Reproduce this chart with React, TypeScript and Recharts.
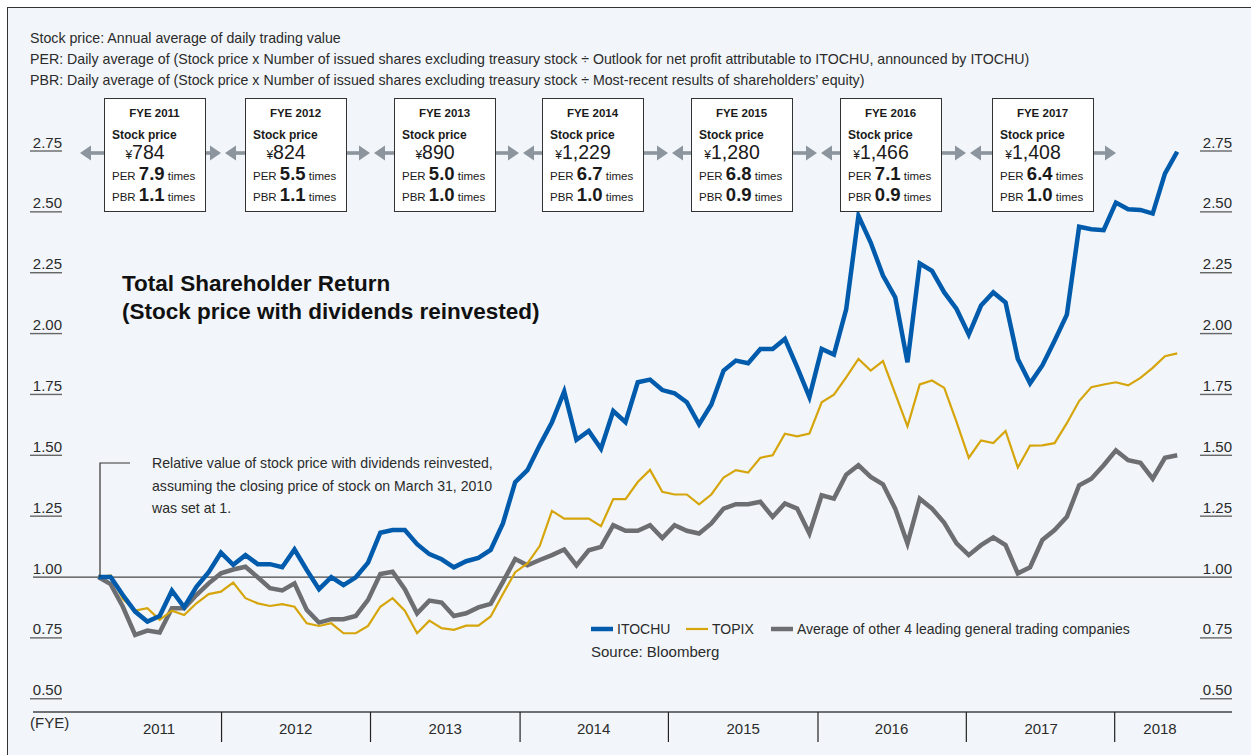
import { LineChart, Line, XAxis, YAxis, ReferenceLine } from 'recharts';

// Relative value of stock price with dividends reinvested, month by month from March 31, 2010 (= 1)
const ITOCHU = [
  1.0, 1.0, 0.926, 0.858, 0.817, 0.84, 0.944, 0.876, 0.96, 1.02,
  1.1, 1.05, 1.09, 1.053, 1.053, 1.04, 1.113, 1.029, 0.95, 1.0,
  0.967, 0.999, 1.059, 1.182, 1.193, 1.193, 1.135, 1.094, 1.073, 1.04,
  1.065, 1.079, 1.111, 1.22, 1.39, 1.439, 1.541, 1.636, 1.762, 1.564,
  1.6, 1.527, 1.682, 1.636, 1.8, 1.811, 1.768, 1.755, 1.718, 1.627,
  1.709, 1.848, 1.889, 1.878, 1.937, 1.937, 1.978, 1.862, 1.739, 1.937,
  1.914, 2.1, 2.484, 2.374, 2.238, 2.149, 1.882, 2.288, 2.258, 2.169,
  2.101, 1.996, 2.115, 2.169, 2.128, 1.896, 1.796, 1.869, 1.971, 2.078,
  2.439, 2.429, 2.425, 2.538, 2.511, 2.508, 2.493, 2.657, 2.747,
];

const TOPIX = [
  1.0, 1.007, 0.909, 0.862, 0.872, 0.824, 0.862, 0.844, 0.892, 0.93,
  0.94, 0.977, 0.913, 0.892, 0.881, 0.889, 0.878, 0.81, 0.799, 0.81,
  0.769, 0.769, 0.799, 0.878, 0.913, 0.862, 0.769, 0.821, 0.79, 0.783,
  0.8, 0.8, 0.838, 0.93, 1.02, 1.056, 1.127, 1.272, 1.24, 1.24,
  1.24, 1.209, 1.32, 1.32, 1.39, 1.44, 1.35, 1.339, 1.339, 1.299,
  1.339, 1.409, 1.439, 1.429, 1.49, 1.5, 1.589, 1.578, 1.589, 1.718,
  1.749, 1.82, 1.896, 1.848, 1.887, 1.753, 1.619, 1.791, 1.807, 1.777,
  1.637, 1.49, 1.561, 1.55, 1.6, 1.45, 1.54, 1.541, 1.55, 1.632,
  1.723, 1.78, 1.791, 1.8, 1.787, 1.818, 1.859, 1.907, 1.919,
];

const OTHERS = [
  1.0, 0.971, 0.878, 0.762, 0.78, 0.772, 0.872, 0.872, 0.926, 0.974,
  1.015, 1.031, 1.042, 0.999, 0.954, 0.945, 0.974, 0.865, 0.813, 0.827,
  0.827, 0.84, 0.906, 1.012, 1.022, 0.95, 0.851, 0.903, 0.895, 0.84,
  0.851, 0.875, 0.89, 0.98, 1.074, 1.048, 1.07, 1.09, 1.113, 1.048,
  1.11, 1.124, 1.213, 1.19, 1.19, 1.213, 1.16, 1.213, 1.19, 1.179,
  1.22, 1.281, 1.299, 1.299, 1.309, 1.247, 1.302, 1.281, 1.179, 1.336,
  1.322, 1.42, 1.459, 1.411, 1.381, 1.281, 1.138, 1.322, 1.281, 1.223,
  1.138, 1.09, 1.131, 1.163, 1.131, 1.015, 1.04, 1.152, 1.193, 1.247,
  1.377, 1.404, 1.459, 1.52, 1.48, 1.469, 1.404, 1.49, 1.5,
];

const Y_TICKS = [0.5, 0.75, 1.0, 1.25, 1.5, 1.75, 2.0, 2.25, 2.5, 2.75];

// fiscal-year columns on the month axis
const YEAR_LABELS = ['2011', '2012', '2013', '2014', '2015', '2016', '2017', '2018'];
const YEAR_LABEL_AT = [4.95, 16.1, 28.3, 40.4, 52.6, 64.7, 76.9, 86.6];
const FY_BOUNDARY_AT = [10.05, 22.2, 34.4, 46.5, 58.7, 70.8, 82.9];

// boxes above the chart
const FYE = ['FYE 2011', 'FYE 2012', 'FYE 2013', 'FYE 2014', 'FYE 2015', 'FYE 2016', 'FYE 2017'];
const PRICE = ['784', '824', '890', '1,229', '1,280', '1,466', '1,408'];
const PER = ['7.9', '5.5', '5.0', '6.7', '6.8', '7.1', '6.4'];
const PBR = ['1.1', '1.1', '1.0', '1.0', '0.9', '0.9', '1.0'];

const NOTES = [
  'Stock price: Annual average of daily trading value',
  'PER: Daily average of (Stock price x Number of issued shares excluding treasury stock ÷ Outlook for net profit attributable to ITOCHU, announced by ITOCHU)',
  'PBR: Daily average of (Stock price x Number of issued shares excluding treasury stock ÷ Most-recent results of shareholders’ equity)',
];

const SERIES = [
  { key: 'itochu', name: 'ITOCHU', color: '#005bac', width: 4.5 },
  { key: 'topix', name: 'TOPIX', color: '#d6a50c', width: 2.2 },
  { key: 'others', name: 'Average of other 4 leading general trading companies', color: '#6d6e71', width: 4.5 },
];

const rows = ITOCHU.map((v, i) => ({ i, itochu: v, topix: TOPIX[i], others: OTHERS[i] }));

// layout
const W = 1251;
const H = 755;
const FONT = '"Liberation Sans", Arial, Helvetica, sans-serif';
const INK = '#2b2b2b';
const PLOT_LEFT = 33;
const PLOT_RIGHT = 1232;
const BOX_LEFT = [104, 245, 394, 542, 691, 840, 992];
const BOX_W = 101;
const BOX_TOP = 98;
const BOX_H = 113;
const TIP_LEFT = [80, 225, 374, 523, 672, 821, 970];
const TIP_RIGHT = [221, 370, 519, 668, 817, 966, 1116];
const ARROW_Y = 153;
const ARROW = '#8c959d';

function LeftTick(props: any) {
  const { y, payload } = props;
  return (
    <g>
      <text x={PLOT_LEFT + 29} y={y - 3.5} textAnchor="end" fontSize={15} fill={INK} fontFamily={FONT}>
        {Number(payload.value).toFixed(2)}
      </text>
      {payload.value !== 1 && (
        <line x1={PLOT_LEFT - 3} x2={PLOT_LEFT + 29} y1={y} y2={y} stroke="#666" strokeWidth={1.4} />
      )}
    </g>
  );
}

function RightTick(props: any) {
  const { y, payload } = props;
  return (
    <g>
      <text x={PLOT_RIGHT} y={y - 3.5} textAnchor="end" fontSize={15} fill={INK} fontFamily={FONT}>
        {Number(payload.value).toFixed(2)}
      </text>
      {payload.value !== 1 && (
        <line x1={PLOT_RIGHT - 32} x2={PLOT_RIGHT} y1={y} y2={y} stroke="#666" strokeWidth={1.4} />
      )}
    </g>
  );
}

function YearTick(props: any) {
  const { x, y, payload } = props;
  if (FY_BOUNDARY_AT.includes(payload.value)) {
    return <line x1={x} x2={x} y1={y} y2={y + 30} stroke="#222" strokeWidth={1.2} />;
  }
  const k = YEAR_LABEL_AT.indexOf(payload.value);
  return (
    <text x={x} y={y + 22} textAnchor="middle" fontSize={15} fill={INK} fontFamily={FONT}>
      {YEAR_LABELS[k]}
    </text>
  );
}

function Arrow({ from, tip }: { from: number; tip: number }) {
  const dir = tip < from ? 1 : -1;
  const base = tip + dir * 11;
  return (
    <g fill={ARROW}>
      <rect x={Math.min(from, base)} y={ARROW_Y - 1.8} width={Math.abs(from - base)} height={3.6} />
      <polygon points={`${tip},${ARROW_Y} ${base},${ARROW_Y - 7.5} ${base},${ARROW_Y + 7.5}`} />
    </g>
  );
}

function Boxes() {
  return (
    <g fontFamily={FONT} fill="#1a1a1a">
      {FYE.map((label, k) => {
        const L = BOX_LEFT[k];
        return (
          <g key={label}>
            <Arrow from={L} tip={TIP_LEFT[k]} />
            <Arrow from={L + BOX_W} tip={TIP_RIGHT[k]} />
            <rect x={L + 0.5} y={BOX_TOP + 0.5} width={BOX_W} height={BOX_H} fill="#fff" stroke="#333" strokeWidth={1} />
            <text x={L + BOX_W / 2} y={BOX_TOP + 19} textAnchor="middle" fontSize={11.5} fontWeight={700}>{label}</text>
            <text x={L + 8} y={BOX_TOP + 41} fontSize={12} fontWeight={700}>Stock price</text>
            <text x={L + 41} y={BOX_TOP + 61} textAnchor="middle">
              <tspan fontSize={12}>¥</tspan>
              <tspan fontSize={19.5}>{PRICE[k]}</tspan>
            </text>
            <text x={L + 8} y={BOX_TOP + 82}>
              <tspan fontSize={11.5}>PER </tspan>
              <tspan fontSize={18.5} fontWeight={700}>{PER[k]}</tspan>
              <tspan fontSize={11.5}> times</tspan>
            </text>
            <text x={L + 8} y={BOX_TOP + 103}>
              <tspan fontSize={11.5}>PBR </tspan>
              <tspan fontSize={18.5} fontWeight={700}>{PBR[k]}</tspan>
              <tspan fontSize={11.5}> times</tspan>
            </text>
          </g>
        );
      })}
    </g>
  );
}

function Overlay() {
  const legendX = [591, 686, 771];
  return (
    <svg width={W} height={H} style={{ position: 'absolute', left: 0, top: 0, pointerEvents: 'none' }}>
      <g fontFamily={FONT} fill={INK} fontSize={14.2}>
        {NOTES.map((t, k) => (
          <text key={k} x={30} y={43 + k * 21}>{t}</text>
        ))}
      </g>
      <Boxes />
      <g fontFamily={FONT} fill="#111" fontSize={22.5} fontWeight={700}>
        <text x={122} y={291}>Total Shareholder Return</text>
        <text x={122} y={319}>(Stock price with dividends reinvested)</text>
      </g>
      <g fontFamily={FONT} fill={INK} fontSize={14.1}>
        <text x={152} y={468}>Relative value of stock price with dividends reinvested,</text>
        <text x={152} y={491}>assuming the closing price of stock on March 31, 2010</text>
        <text x={152} y={513}>was set at 1.</text>
        <polyline points="100,577 100,463 130,463" fill="none" stroke="#333" strokeWidth={1.2} />
      </g>
      <g fontFamily={FONT} fill={INK} fontSize={14}>
        {SERIES.map((s, k) => (
          <g key={s.key}>
            <rect x={legendX[k]} y={629 - s.width / 2} width={22} height={s.width} fill={s.color} />
            <text x={legendX[k] + 26} y={634}>{s.name}</text>
          </g>
        ))}
        <text x={591} y={657} fontSize={15}>Source: Bloomberg</text>
        <text x={30} y={728} fontSize={15}>(FYE)</text>
      </g>
    </svg>
  );
}

export default function App() {
  return (
    <div style={{ position: 'absolute', left: 0, top: 0, width: W, height: H, background: '#fff', overflow: 'hidden', fontFamily: FONT }}>
      <div
        style={{
          position: 'absolute', left: 7, top: 7, right: 0, bottom: 0,
          background: '#f2f6fa', borderLeft: '1.5px solid #333', borderTop: '1.5px solid #333',
        }}
      />
      <div style={{ position: 'absolute', left: 0, top: 0 }}>
        <LineChart width={W} height={H} data={rows} margin={{ top: 151, right: W - PLOT_RIGHT - 1, bottom: 0, left: PLOT_LEFT - 1 }}>
          <XAxis
            dataKey="i"
            type="number"
            domain={[-5.33, 92.47]}
            allowDataOverflow
            ticks={[...FY_BOUNDARY_AT, ...YEAR_LABEL_AT]}
            interval={0}
            tick={(p: any) => <YearTick {...p} />}
            tickLine={false}
            tickSize={0}
            tickMargin={0}
            height={43}
            axisLine={{ stroke: '#444', strokeWidth: 1.5 }}
          />
          <YAxis
            yAxisId="left"
            domain={[0.4456, 2.75]}
            allowDataOverflow
            ticks={Y_TICKS}
            interval={0}
            width={1}
            tick={(p: any) => <LeftTick {...p} />}
            tickLine={false}
            axisLine={false}
          />
          <YAxis
            yAxisId="right"
            orientation="right"
            domain={[0.4456, 2.75]}
            allowDataOverflow
            ticks={Y_TICKS}
            interval={0}
            width={1}
            tick={(p: any) => <RightTick {...p} />}
            tickLine={false}
            axisLine={false}
          />
          <ReferenceLine yAxisId="left" y={1} stroke="#444" strokeWidth={1.3} />
          {[...SERIES].reverse().map((s) => (
            <Line
              key={s.key}
              yAxisId="left"
              type="linear"
              dataKey={s.key}
              name={s.name}
              stroke={s.color}
              strokeWidth={s.width}
              dot={false}
              activeDot={false}
              isAnimationActive={false}
            />
          ))}
        </LineChart>
      </div>
      <Overlay />
    </div>
  );
}
